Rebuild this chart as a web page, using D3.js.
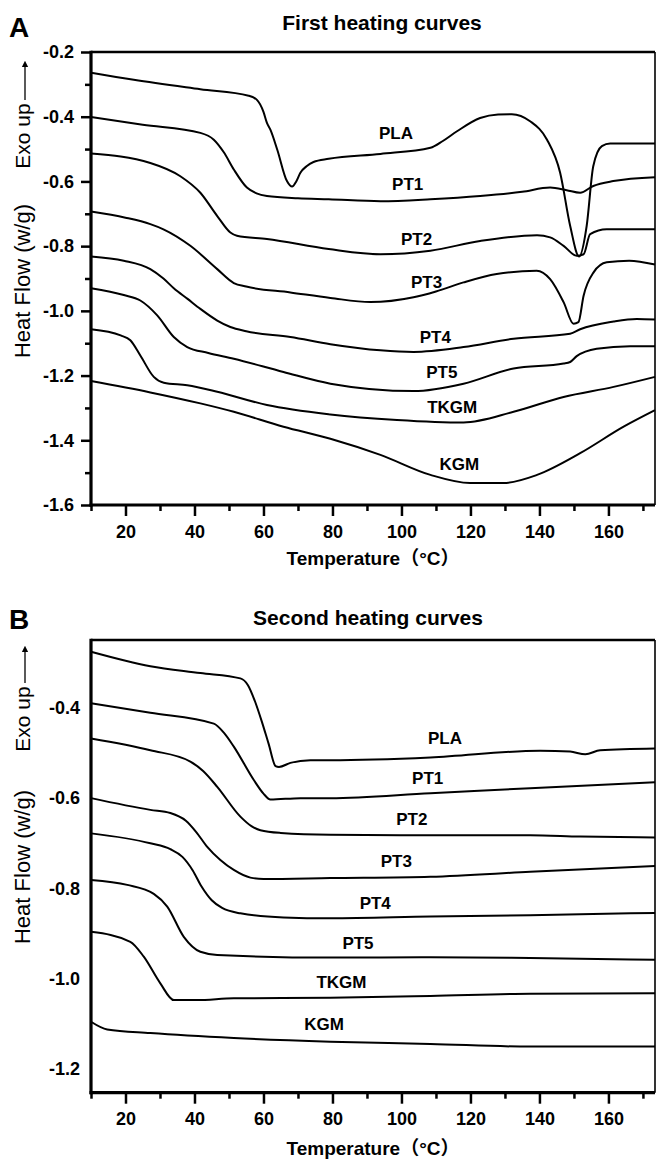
<!DOCTYPE html>
<html><head><meta charset="utf-8">
<script src="https://cdn.jsdelivr.net/npm/d3@7"></script>
<style>
body{margin:0;background:#fff}
svg{display:block}
text{font-family:"Liberation Sans",Arial,"Noto Sans CJK SC",sans-serif;fill:#000}
</style>
</head><body>
<svg id="chart" width="658" height="1160"></svg>
<script>
// ---------- DATA ----------
const seriesNames = ["PLA","PT1","PT2","PT3","PT4","PT5","TKGM","KGM"];

// Panel A: first heating curves, [temperature (°C), heat flow (W/g)]
const firstPLA = [[10,-0.264],[22.4,-0.286],[41.7,-0.315],[55.7,-0.335],[58.1,-0.348],[60,-0.385],[61,-0.419],[62,-0.44],[64,-0.502],[66.8,-0.599],[68.3,-0.616],[69.5,-0.6],[70.7,-0.573],[72.5,-0.553],[74.5,-0.54],[78.9,-0.53],[93.9,-0.515],[108.4,-0.496],[112,-0.475],[116.1,-0.445],[122.8,-0.404],[128,-0.393],[132,-0.392],[137.3,-0.414],[142.2,-0.471],[146,-0.573],[148.9,-0.737],[151.5,-0.832],[153.7,-0.737],[155.6,-0.553],[158.1,-0.491],[160.5,-0.483],[173.5,-0.483]];
const firstPT1 = [[10,-0.401],[25,-0.425],[41.7,-0.45],[45.6,-0.471],[48.5,-0.51],[51.4,-0.563],[55.2,-0.619],[58,-0.637],[61,-0.645],[70,-0.652],[78.9,-0.655],[93.9,-0.661],[108.4,-0.655],[122.8,-0.645],[135,-0.632],[143.1,-0.619],[147.9,-0.627],[151.8,-0.635],[155.6,-0.614],[161.4,-0.599],[173.5,-0.587]];
const firstPT2 = [[10,-0.514],[27.2,-0.543],[35.9,-0.584],[41.7,-0.635],[46.6,-0.707],[50.4,-0.758],[52.3,-0.768],[61,-0.778],[78.9,-0.809],[93.9,-0.825],[108.4,-0.814],[122.8,-0.784],[139.3,-0.766],[143.1,-0.773],[147,-0.799],[150.8,-0.83],[152.8,-0.825],[154.7,-0.763],[159.5,-0.748],[173.5,-0.748]];
const firstPT3 = [[10,-0.693],[20,-0.712],[27.2,-0.732],[31,-0.748],[38.8,-0.799],[46.6,-0.871],[51.4,-0.914],[55,-0.925],[67.8,-0.943],[79.4,-0.96],[91,-0.973],[103.5,-0.958],[110,-0.94],[118,-0.912],[127.6,-0.886],[139.2,-0.876],[143.1,-0.902],[147,-0.973],[149.9,-1.04],[151.3,-1.035],[152.8,-0.953],[155.7,-0.881],[159.5,-0.85],[166,-0.845],[173.5,-0.857]];
const firstPT4 = [[10,-0.832],[19.5,-0.845],[27.2,-0.871],[31,-0.9],[34,-0.93],[38,-0.963],[41.7,-0.994],[46.6,-1.03],[50.4,-1.05],[55,-1.063],[67.8,-1.081],[79.4,-1.103],[93.9,-1.122],[103.5,-1.127],[118,-1.112],[132.5,-1.086],[148.9,-1.071],[151.8,-1.057],[161.5,-1.033],[168.2,-1.025],[173.5,-1.027]];
const firstPT5 = [[10,-0.93],[19.5,-0.951],[24.3,-0.968],[29.2,-1.014],[34,-1.081],[37.9,-1.112],[44,-1.13],[51.4,-1.148],[65.8,-1.189],[79.4,-1.225],[103.5,-1.248],[118,-1.225],[132.5,-1.178],[147,-1.163],[148.9,-1.158],[150.8,-1.14],[156.6,-1.117],[166.3,-1.109],[173.5,-1.109]];
const firstTKGM = [[10,-1.057],[18.6,-1.076],[21.4,-1.091],[24.3,-1.138],[28.2,-1.204],[31.1,-1.222],[37.9,-1.23],[46.6,-1.25],[61,-1.291],[79.4,-1.32],[98.7,-1.337],[118,-1.345],[132.5,-1.312],[147,-1.266],[161.5,-1.235],[173.5,-1.204]];
const firstKGM = [[10,-1.217],[27.2,-1.252],[41.7,-1.286],[51.4,-1.312],[65.8,-1.358],[79.4,-1.395],[93.9,-1.445],[108.4,-1.507],[119.9,-1.532],[129.6,-1.532],[139.3,-1.507],[151.8,-1.44],[164.4,-1.358],[173.5,-1.307]];

// Panel B: second heating curves
const secondPLA = [[10,-0.276],[27.2,-0.308],[41.7,-0.323],[53.3,-0.335],[55.5,-0.35],[57.5,-0.385],[59.5,-0.43],[61.5,-0.48],[63.5,-0.529],[64.5,-0.531],[67.8,-0.522],[73.6,-0.516],[79.4,-0.516],[108.4,-0.51],[140.2,-0.495],[148.9,-0.497],[153.3,-0.503],[157.6,-0.494],[173.5,-0.49]];
const secondPT1 = [[10,-0.39],[27.2,-0.411],[45.6,-0.435],[48.5,-0.455],[51.4,-0.486],[57.2,-0.56],[60,-0.59],[62,-0.603],[70.7,-0.6],[79.4,-0.6],[108.4,-0.589],[137.3,-0.578],[173.5,-0.565]];
const secondPT2 = [[10,-0.468],[27.2,-0.494],[38.8,-0.519],[42.5,-0.54],[46.6,-0.575],[53.3,-0.641],[56.5,-0.662],[59.1,-0.671],[65,-0.677],[79.4,-0.681],[108.4,-0.682],[137.3,-0.682],[151.8,-0.685],[173.5,-0.687]];
const secondPT3 = [[10,-0.6],[27.2,-0.626],[33,-0.633],[37.5,-0.65],[40.5,-0.675],[43.7,-0.708],[47.5,-0.737],[51.4,-0.759],[56.2,-0.776],[60,-0.779],[79.4,-0.777],[108.4,-0.774],[137.3,-0.763],[173.5,-0.75]];
const secondPT4 = [[10,-0.678],[27.2,-0.7],[33,-0.713],[36.5,-0.73],[39.5,-0.76],[42,-0.795],[45,-0.826],[48,-0.843],[53.3,-0.855],[65.8,-0.864],[79.4,-0.866],[108.4,-0.862],[137.3,-0.859],[173.5,-0.854]];
const secondPT5 = [[10,-0.781],[20.5,-0.792],[28.2,-0.812],[32.1,-0.84],[36.9,-0.907],[41.7,-0.94],[46.6,-0.947],[79.4,-0.953],[108.4,-0.952],[137.3,-0.954],[173.5,-0.958]];
const secondTKGM = [[10,-0.896],[21.4,-0.918],[25.3,-0.951],[30.1,-1.01],[34,-1.047],[40.7,-1.047],[51.4,-1.043],[79.4,-1.042],[108.4,-1.038],[137.3,-1.033],[173.5,-1.032]];
const secondKGM = [[10,-1.095],[14.7,-1.112],[27.2,-1.12],[51.4,-1.131],[79.4,-1.139],[108.4,-1.144],[137.3,-1.15],[173.5,-1.15]];

// Curve label anchors in data units [temperature, heat flow]
const labelsFirst = [[98.4,-0.451],[101.8,-0.611],[104.4,-0.78],[107.3,-0.912],[109.8,-1.082],[111.7,-1.19],[114.7,-1.3],[116.8,-1.475]];
const labelsSecond = [[112.6,-0.468],[107.6,-0.557],[103,-0.648],[98.5,-0.74],[92.4,-0.833],[87.4,-0.922],[82.6,-1.008],[77.6,-1.102]];

// Ticks
const xDomain = [10, 173.5];
const xMajorTicks = [20,40,60,80,100,120,140,160];
const xMinorTicks = [10,30,50,70,90,110,130,150,170];
const yDomainA = [-1.6, -0.2];
const yMajorTicksA = [-0.2,-0.4,-0.6,-0.8,-1.0,-1.2,-1.4,-1.6];
const yMinorTicksA = [-0.3,-0.5,-0.7,-0.9,-1.1,-1.3,-1.5];
const yDomainB = [-1.252, -0.25];
const yMajorTicksB = [-0.4,-0.6,-0.8,-1.0,-1.2];

const panelA = {letter:"A", title:"First heating curves", series:[firstPLA,firstPT1,firstPT2,firstPT3,firstPT4,firstPT5,firstTKGM,firstKGM], labels:labelsFirst, yDomain:yDomainA, yMajor:yMajorTicksA, yMinor:yMinorTicksA,
  top:52, bottom:505, titleX:382, titleY:30, letterY:37, yTickSize:10, yPad:7, arrowTop:58, arrowBottom:100, exoCenter:136, hfCenter:281, xLabelY:565};
const panelB = {letter:"B", title:"Second heating curves", series:[secondPLA,secondPT1,secondPT2,secondPT3,secondPT4,secondPT5,secondTKGM,secondKGM], labels:labelsSecond, yDomain:yDomainB, yMajor:yMajorTicksB, yMinor:[],
  top:640, bottom:1092.7, titleX:368, titleY:625, letterY:629, yTickSize:0, yPad:11, arrowTop:643, arrowBottom:683, exoCenter:719, hfCenter:867, xLabelY:1155};

// ---------- DRAW ----------
const svg = d3.select("#chart");
const left = 91, right = 655;
const fmt = d => d.toFixed(1);

svg.append("defs").append("marker")
  .attr("id","arrow").attr("viewBox","0 0 10 10").attr("refX",5).attr("refY",5)
  .attr("markerWidth",5).attr("markerHeight",6).attr("orient","auto")
  .append("path").attr("d","M0,0 L10,5 L0,10 Z").attr("fill","#000");

function drawPanel(p){
  const x = d3.scaleLinear().domain(xDomain).range([left, right]);
  const y = d3.scaleLinear().domain(p.yDomain).range([p.bottom, p.top]);
  const g = svg.append("g");

  // curves
  const line = d3.line().x(d=>x(d[0])).y(d=>y(d[1])).curve(d3.curveMonotoneX);
  g.selectAll("path.curve").data(p.series).join("path")
    .attr("class","curve").attr("d",line)
    .attr("fill","none").attr("stroke","#000").attr("stroke-width",2).attr("stroke-linejoin","round");

  // curve labels
  g.selectAll("text.lbl").data(p.labels).join("text")
    .attr("class","lbl")
    .attr("x",d=>x(d[0])).attr("y",d=>y(d[1]))
    .attr("text-anchor","middle").attr("dominant-baseline","central")
    .attr("font-size",17).attr("font-weight","bold")
    .text((d,i)=>seriesNames[i]);

  // frame: top & right thinner, left & bottom thick
  g.append("line").attr("x1",left).attr("x2",right).attr("y1",p.top).attr("y2",p.top).attr("stroke","#000").attr("stroke-width",2.5);
  g.append("line").attr("x1",right).attr("x2",right).attr("y1",p.top).attr("y2",p.bottom).attr("stroke","#000").attr("stroke-width",1.6);

  // x axis
  const xAxis = g.append("g").attr("transform",`translate(0,${p.bottom})`)
    .call(d3.axisBottom(x).tickValues(xMajorTicks).tickSize(11).tickSizeOuter(0).tickPadding(9).tickFormat(d3.format("d")));
  xAxis.select(".domain").remove();
  xAxis.selectAll(".tick line").attr("stroke-width",2.5);
  xAxis.selectAll(".tick text").attr("font-size",18).attr("font-weight","bold").style("font-family",'"Liberation Sans",Arial,sans-serif');
  const xMinor = g.append("g").attr("transform",`translate(0,${p.bottom})`)
    .call(d3.axisBottom(x).tickValues(xMinorTicks).tickSize(6).tickSizeOuter(0).tickFormat(""));
  xMinor.select(".domain").remove();
  xMinor.selectAll(".tick line").attr("stroke-width",2.5);
  g.append("line").attr("x1",left-1.5).attr("x2",right).attr("y1",p.bottom).attr("y2",p.bottom).attr("stroke","#000").attr("stroke-width",3.2);

  // y axis
  const yAxis = g.append("g").attr("transform",`translate(${left},0)`)
    .call(d3.axisLeft(y).tickValues(p.yMajor).tickSize(p.yTickSize).tickSizeOuter(0).tickPadding(p.yPad).tickFormat(fmt));
  yAxis.select(".domain").remove();
  yAxis.selectAll(".tick line").attr("stroke-width",2.5);
  yAxis.selectAll(".tick text").attr("font-size",18).attr("font-weight","bold").style("font-family",'"Liberation Sans",Arial,sans-serif');
  if (p.yMinor.length){
    const yMinor = g.append("g").attr("transform",`translate(${left},0)`)
      .call(d3.axisLeft(y).tickValues(p.yMinor).tickSize(6).tickSizeOuter(0).tickFormat(""));
    yMinor.select(".domain").remove();
    yMinor.selectAll(".tick line").attr("stroke-width",2.5);
  }
  g.append("line").attr("x1",left).attr("x2",left).attr("y1",p.top-1.2).attr("y2",p.bottom+1.5).attr("stroke","#000").attr("stroke-width",3.2);

  // titles
  g.append("text").attr("x",p.titleX).attr("y",p.titleY).attr("text-anchor","middle")
    .attr("font-size",21).attr("font-weight","bold").text(p.title);
  g.append("text").attr("x",9).attr("y",p.letterY)
    .attr("font-size",28).attr("font-weight","bold").text(p.letter);
  g.append("text").attr("x",(left+right)/2).attr("y",p.xLabelY).attr("text-anchor","middle")
    .attr("font-size",19).attr("font-weight","bold").text("Temperature（°C）");

  // y title
  g.append("text").attr("transform",`translate(30,${p.hfCenter}) rotate(-90)`).attr("text-anchor","middle")
    .attr("font-size",22).text("Heat Flow (w/g)");
  g.append("text").attr("transform",`translate(30,${p.exoCenter}) rotate(-90)`).attr("text-anchor","middle")
    .attr("font-size",21).text("Exo up");
  g.append("line").attr("x1",25).attr("x2",25).attr("y1",p.arrowBottom).attr("y2",p.arrowTop+6)
    .attr("stroke","#000").attr("stroke-width",1.3).attr("marker-end","url(#arrow)");
}

drawPanel(panelA);
drawPanel(panelB);
</script>
</body></html>
